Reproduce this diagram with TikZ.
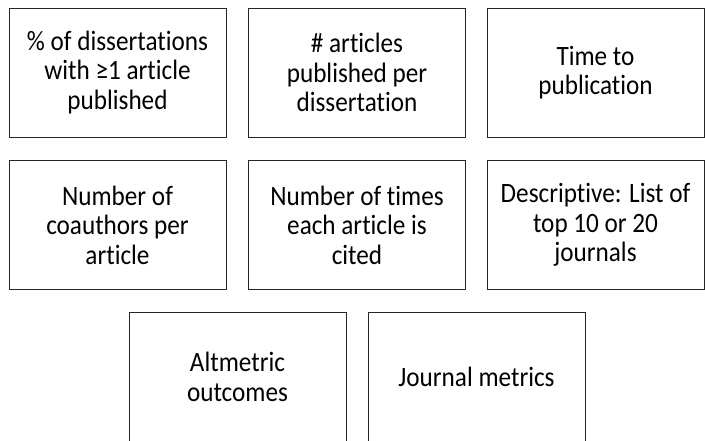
\documentclass[tikz,border=0pt]{standalone}
\usepackage{fontspec}
\setmainfont[Ligatures=NoCommon,FakeStretch=0.9]{Carlito}
\begin{document}
\begin{tikzpicture}[x=1pt,y=-1pt]
\tikzset{boite/.style={draw=black!85, line width=1pt, minimum width=217pt, minimum height=129pt, align=center, inner sep=0pt, font=\fontsize{28}{29.5}\selectfont}}
\useasboundingbox (0,0) rectangle (705,440);
\node[boite] (B1) at (117.5,72.5) {\% of dissertations\\with ≥1 article\\published};
\node[boite] (B2) at (357,72.5) {\# articles\\published per\\dissertation};
\node[boite] (B3) at (595.5,72.5) {Time to\\publication};
\node[boite] (B4) at (117.5,225) {Number of\\coauthors per\\article};
\node[boite] (B5) at (357,225) {Number of times\\each article is\\cited};
\node[boite] (B6) at (595.5,225) {Descriptive: List of\\top 10 or 20\\journals};
\node[boite] (B7) at (237.5,377) {Altmetric\\outcomes};
\node[boite] (B8) at (476.5,377) {Journal metrics};
\end{tikzpicture}
\end{document}
